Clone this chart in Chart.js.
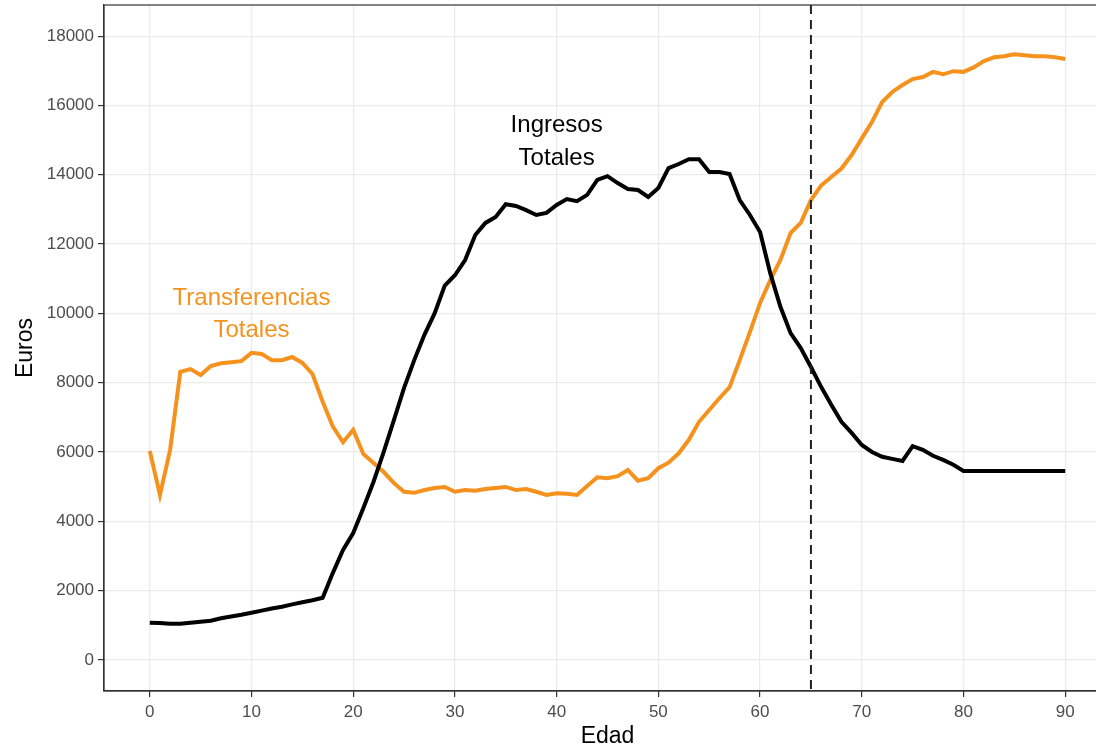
<!DOCTYPE html>
<html>
<head>
<meta charset="utf-8">
<script src="https://cdn.jsdelivr.net/npm/chart.js@4.4.1/dist/chart.umd.min.js"></script>
<style>
  html, body { margin: 0; padding: 0; background: #fff; overflow: hidden; }
  #wrap { width: 1096px; height: 747px; overflow: hidden; }
</style>
</head>
<body>
<div id="wrap"><canvas id="c" width="1114" height="750"></canvas></div>
<script>
const edad = Array.from({length: 91}, (_, i) => i);
const ingresosTotales = [
  1070, 1060, 1040, 1040, 1070, 1100, 1130, 1200, 1250, 1300,
  1360, 1420, 1480, 1530, 1600, 1660, 1720, 1790, 2510, 3170,
  3660, 4380, 5140, 6000, 6920, 7850, 8650, 9380, 10000, 10800,
  11100, 11540, 12260, 12610, 12780, 13150, 13100, 12980, 12840, 12900,
  13130, 13300, 13240, 13420, 13850, 13960, 13760, 13590, 13560, 13360,
  13620, 14190, 14310, 14450, 14450, 14080, 14080, 14020, 13270, 12840,
  12350, 11160, 10190, 9430, 9000, 8450, 7880, 7360, 6870, 6550,
  6200, 6000, 5860, 5800, 5740, 6170, 6060, 5890, 5770, 5630,
  5450, 5450, 5450, 5450, 5450, 5450, 5450, 5450, 5450, 5450, 5450
];
const transferenciasTotales = [
  6030, 4760, 6060, 8310, 8390, 8220, 8480, 8560, 8590, 8620,
  8860, 8830, 8650, 8650, 8740, 8570, 8250, 7450, 6730, 6280,
  6640, 5940, 5680, 5420, 5100, 4850, 4820, 4900, 4960, 4990,
  4850, 4900, 4880, 4930, 4960, 4990, 4900, 4930, 4850, 4760,
  4810, 4790, 4760, 5020, 5270, 5240, 5300, 5480, 5170, 5240,
  5530, 5690, 5960, 6350, 6870, 7210, 7550, 7870, 8650, 9460,
  10300, 10960, 11540, 12320, 12610, 13270, 13690, 13935, 14180, 14570,
  15050, 15520, 16100, 16390, 16590, 16760, 16820, 16970, 16900, 16990,
  16970, 17100, 17280, 17390, 17420, 17480, 17450, 17420, 17420, 17390, 17340
];
const xTicks = [0, 10, 20, 30, 40, 50, 60, 70, 80, 90];
const yTicks = [0, 2000, 4000, 6000, 8000, 10000, 12000, 14000, 16000, 18000];
const edadJubilacion = 65;
const etiquetas = ["Ingresos\nTotales", "Transferencias\nTotales"];
const etiquetaX = [40, 10];
const etiquetaY1 = [15430, 10440];
const etiquetaY2 = [14480, 9520];
const colores = ["#000000", "#F5921E"];

const extras = {
  id: 'extras',
  afterDatasetsDraw(chart) {
    const {ctx, chartArea: a, scales: {x, y}} = chart;
    ctx.save();
    const px = x.getPixelForValue(edadJubilacion);
    ctx.strokeStyle = '#222';
    ctx.lineWidth = 2;
    ctx.setLineDash([9, 6]);
    ctx.beginPath();
    ctx.moveTo(px, a.top);
    ctx.lineTo(px, a.bottom);
    ctx.stroke();
    ctx.setLineDash([]);
    ctx.font = '24px "Liberation Sans", Arial, sans-serif';
    ctx.textAlign = 'center';
    ctx.textBaseline = 'middle';
    etiquetas.forEach((t, i) => {
      const lines = t.split('\n');
      ctx.fillStyle = colores[i];
      ctx.fillText(lines[0], x.getPixelForValue(etiquetaX[i]), y.getPixelForValue(etiquetaY1[i]));
      ctx.fillText(lines[1], x.getPixelForValue(etiquetaX[i]), y.getPixelForValue(etiquetaY2[i]));
    });
    ctx.strokeStyle = '#333';
    ctx.lineWidth = 1.2;
    ctx.strokeRect(a.left, a.top, a.right - a.left, a.bottom - a.top);
    ctx.restore();
  }
};

const fam = '"Liberation Sans", Arial, sans-serif';

new Chart(document.getElementById('c'), {
  type: 'line',
  data: {
    datasets: [
      {
        label: 'Ingresos Totales',
        data: edad.map((e, i) => ({x: e, y: ingresosTotales[i]})),
        borderColor: colores[0],
        borderWidth: 4,
        pointRadius: 0,
        tension: 0,
        fill: false
      },
      {
        label: 'Transferencias Totales',
        data: edad.map((e, i) => ({x: e, y: transferenciasTotales[i]})),
        borderColor: colores[1],
        borderWidth: 4,
        pointRadius: 0,
        tension: 0,
        fill: false
      }
    ]
  },
  options: {
    responsive: false,
    animation: false,
    events: [],
    layout: { padding: { top: 5, left: 10, right: 3, bottom: 0 } },
    plugins: { legend: { display: false }, tooltip: { enabled: false } },
    scales: {
      x: {
        type: 'linear',
        min: -4.5,
        max: 94.5,
        afterBuildTicks: s => { s.ticks = xTicks.map(v => ({value: v})); },
        afterFit: s => { s.height = 59; s.paddingLeft = 0; s.paddingRight = 0; },
        ticks: {
          color: '#4D4D4D',
          font: { family: fam, size: 17 },
          padding: 5,
          maxRotation: 0,
          autoSkip: false,
          callback: v => String(v)
        },
        grid: { color: '#EBEBEB', lineWidth: 1.2, tickLength: 6, tickColor: '#333' },
        border: { display: true, color: '#333', width: 1.2 },
        title: {
          display: true,
          text: 'Edad',
          color: '#000',
          font: { family: fam, size: 23 },
          padding: { top: 0, bottom: 0 }
        }
      },
      y: {
        type: 'linear',
        min: -900,
        max: 18900,
        afterBuildTicks: s => { s.ticks = yTicks.map(v => ({value: v})); },
        afterFit: s => { s.width = 94; s.paddingTop = 0; s.paddingBottom = 0; },
        ticks: {
          color: '#4D4D4D',
          font: { family: fam, size: 17 },
          padding: 4,
          autoSkip: false,
          callback: v => String(v)
        },
        grid: { color: '#EBEBEB', lineWidth: 1.2, tickLength: 6, tickColor: '#333' },
        border: { display: true, color: '#333', width: 1.2 },
        title: {
          display: true,
          text: 'Euros',
          color: '#000',
          font: { family: fam, size: 23 },
          padding: { top: 2, bottom: 2 }
        }
      }
    }
  },
  plugins: [extras]
});
</script>
</body>
</html>
